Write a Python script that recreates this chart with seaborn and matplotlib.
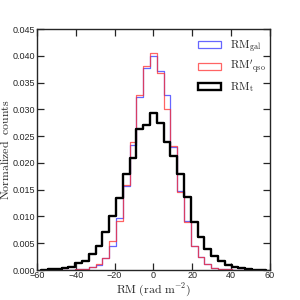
import numpy as np
import pandas as pd
import matplotlib
matplotlib.use("Agg")
import matplotlib.pyplot as plt
from matplotlib.patches import Patch
import seaborn as sns

# bin index k -> bin centre k*3.5 (rad m^-2)
bin_index = list(range(-16, 17))
bin_width = 3.5

rm_t = [0.00005, 0.0001, 0.0002, 0.0003, 0.0005, 0.00125, 0.0017, 0.0029, 0.0044,
        0.0071, 0.0100, 0.0135, 0.0180, 0.0210, 0.0263, 0.0271, 0.0294, 0.0274,
        0.0240, 0.0213, 0.0180, 0.0136, 0.0090, 0.0061, 0.0039, 0.0026, 0.0017,
        0.0009, 0.0005, 0.0003, 0.0001, 0.00005, 0.0]
rm_qso = [0.0, 0.0, 0.0, 0.0, 0.00005, 0.0001, 0.0002, 0.0005, 0.0011,
          0.0023, 0.0055, 0.0092, 0.0159, 0.0239, 0.0327, 0.0381, 0.0406, 0.0368,
          0.0300, 0.0232, 0.0146, 0.0090, 0.0044, 0.0024, 0.0012, 0.0003, 0.0002,
          0.0001, 0.0, 0.0, 0.0, 0.0, 0.0]
rm_gal = [0.0, 0.0, 0.0, 0.0, 0.00005, 0.0001, 0.0002, 0.0005, 0.0010,
          0.0022, 0.0044, 0.0098, 0.0157, 0.0233, 0.0323, 0.0377, 0.0400, 0.0372,
          0.0327, 0.0230, 0.0148, 0.0091, 0.0045, 0.0025, 0.0012, 0.0004, 0.0002,
          0.0001, 0.0, 0.0, 0.0, 0.0, 0.0]

series_labels = [r"$\mathrm{RM_{gal}}$", r"$\mathrm{RM'_{qso}}$", r"$\mathrm{RM_{t}}$"]
x_ticks = [-60, -40, -20, 0, 20, 40, 60]
y_ticks = [0.000, 0.005, 0.010, 0.015, 0.020, 0.025, 0.030, 0.035, 0.040, 0.045]

centers = np.array(bin_index) * bin_width
edges = list(np.concatenate([centers - bin_width / 2, [centers[-1] + bin_width / 2]]))
df = pd.DataFrame({"rm": centers, "gal": rm_gal, "qso": rm_qso, "t": rm_t})

sns.set_style("ticks")
plt.rcParams["mathtext.fontset"] = "cm"
plt.rcParams["font.family"] = ["Liberation Sans", "DejaVu Sans"]

fig, ax = plt.subplots(figsize=(3, 3), dpi=100)
fig.subplots_adjust(left=0.123, right=0.9, top=0.903, bottom=0.1)

styles = [("#4040ff", 0.8, 0.9), ("#ff3030", 0.75, 0.9), ("black", 1.0, 1.7)]
for col, (color, alpha, lw) in zip(["gal", "qso", "t"], styles):
    sns.histplot(data=df, x="rm", weights=col, bins=edges, element="step", fill=False,
                 color=color, alpha=alpha, linewidth=lw, ax=ax)

ax.set_xlim(-60, 60)
ax.set_ylim(0, 0.045)
ax.set_xticks(x_ticks)
ax.set_yticks(y_ticks)
ax.set_yticklabels([f"{v:.3f}" for v in y_ticks])
ax.tick_params(axis="both", labelsize=6.5, direction="in", length=5, width=0.9,
               top=True, right=True, pad=1.0)
for s in ax.spines.values():
    s.set_linewidth(1.0)

ax.set_xlabel(r"$\mathrm{RM\ (rad\ m^{-2})}$", fontsize=8.5, labelpad=1)
ax.set_ylabel(r"$\mathrm{Normalized\ \ counts}$", fontsize=8.5, labelpad=0.5)

handles = [Patch(facecolor="none", edgecolor=c, alpha=a, linewidth=lw)
           for (c, a, lw) in styles]
ax.legend(handles, series_labels, loc="upper left", bbox_to_anchor=(0.69, 0.962),
          frameon=False, fontsize=8.2, handlelength=2.0, handleheight=0.55,
          handletextpad=0.8, labelspacing=0.33, borderpad=0, borderaxespad=0)

fig.savefig("out.png", dpi=100)
